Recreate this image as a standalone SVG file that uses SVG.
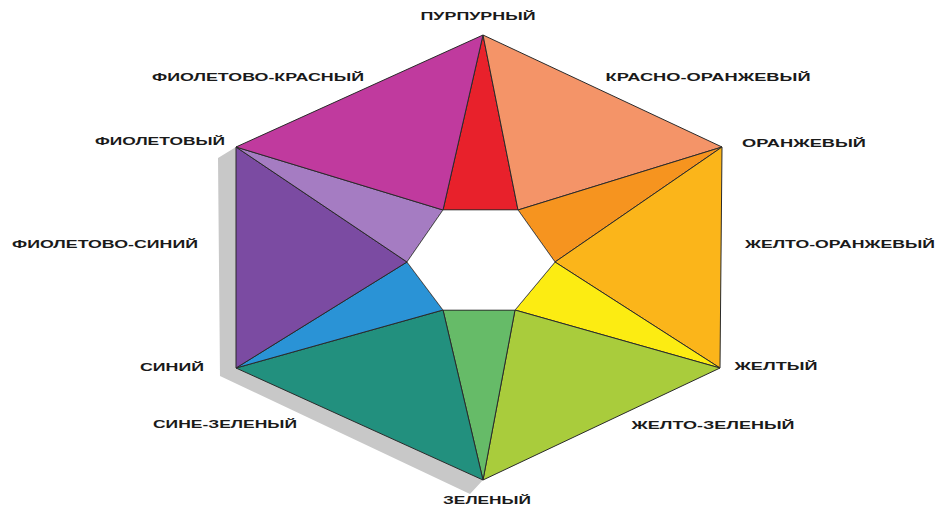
<svg xmlns="http://www.w3.org/2000/svg" width="943" height="508" viewBox="0 0 943 508">
<style>
.lbl{font-family:"Liberation Sans","DejaVu Sans",Arial,sans-serif;font-weight:bold;font-size:11px;fill:#1a1a1a;text-anchor:middle}
.seg{stroke:#2a2a2a;stroke-width:1;stroke-linejoin:round}
</style>
<rect width="943" height="508" fill="#ffffff"/>
<g id="shadow">
<polygon points="236,147 218,158 220,376 470,494 483,480 236,368" fill="#c8c8c8"/>
<polygon points="518,210 528,212 562,262 555,262" fill="#9a9a9a"/>
</g>
<g id="wheel">
<g id="red"><polygon class="seg" points="483,35 443,210 518,210" fill="#e8212b"/></g>
<g id="red-orange"><polygon class="seg" points="483,35 722,147 518,210" fill="#f49468"/></g>
<g id="orange"><polygon class="seg" points="722,147 518,210 555,262" fill="#f6941f"/></g>
<g id="yellow-orange"><polygon class="seg" points="722,147 555,262 720,368" fill="#fbb51a"/></g>
<g id="yellow"><polygon class="seg" points="720,368 555,262 515,310" fill="#fcec12"/></g>
<g id="yellow-green"><polygon class="seg" points="720,368 515,310 483,480" fill="#a9cc3c"/></g>
<g id="green"><polygon class="seg" points="483,480 515,310 443,310" fill="#66bb68"/></g>
<g id="blue-green"><polygon class="seg" points="483,480 443,310 236,368" fill="#22907e"/></g>
<g id="blue"><polygon class="seg" points="236,368 443,310 407,262" fill="#2a93d6"/></g>
<g id="violet-blue"><polygon class="seg" points="236,368 407,262 236,147" fill="#7b4ba2"/></g>
<g id="violet"><polygon class="seg" points="236,147 407,262 443,210" fill="#a57cc2"/></g>
<g id="violet-red"><polygon class="seg" points="236,147 443,210 483,35" fill="#c03a9e"/></g>
<polygon points="443,210 518,210 555,262 515,310 443,310 407,262" fill="#ffffff" stroke="#2a2a2a" stroke-width="0.6"/>
</g>
<g id="labels">
<text class="lbl" x="478" y="20" textLength="115" lengthAdjust="spacingAndGlyphs">ПУРПУРНЫЙ</text>
<text class="lbl" x="258" y="81" textLength="212" lengthAdjust="spacingAndGlyphs">ФИОЛЕТОВО-КРАСНЫЙ</text>
<text class="lbl" x="708" y="81" textLength="205" lengthAdjust="spacingAndGlyphs">КРАСНО-ОРАНЖЕВЫЙ</text>
<text class="lbl" x="160" y="145" textLength="130" lengthAdjust="spacingAndGlyphs">ФИОЛЕТОВЫЙ</text>
<text class="lbl" x="804" y="147" textLength="124" lengthAdjust="spacingAndGlyphs">ОРАНЖЕВЫЙ</text>
<text class="lbl" x="105" y="248" textLength="186" lengthAdjust="spacingAndGlyphs">ФИОЛЕТОВО-СИНИЙ</text>
<text class="lbl" x="840" y="248" textLength="190" lengthAdjust="spacingAndGlyphs">ЖЕЛТО-ОРАНЖЕВЫЙ</text>
<text class="lbl" x="172" y="371" textLength="64" lengthAdjust="spacingAndGlyphs">СИНИЙ</text>
<text class="lbl" x="776" y="370" textLength="83" lengthAdjust="spacingAndGlyphs">ЖЕЛТЫЙ</text>
<text class="lbl" x="225" y="428" textLength="144" lengthAdjust="spacingAndGlyphs">СИНЕ-ЗЕЛЕНЫЙ</text>
<text class="lbl" x="713" y="429" textLength="163" lengthAdjust="spacingAndGlyphs">ЖЕЛТО-ЗЕЛЕНЫЙ</text>
<text class="lbl" x="487" y="504" textLength="88" lengthAdjust="spacingAndGlyphs">ЗЕЛЕНЫЙ</text>
</g>
</svg>
